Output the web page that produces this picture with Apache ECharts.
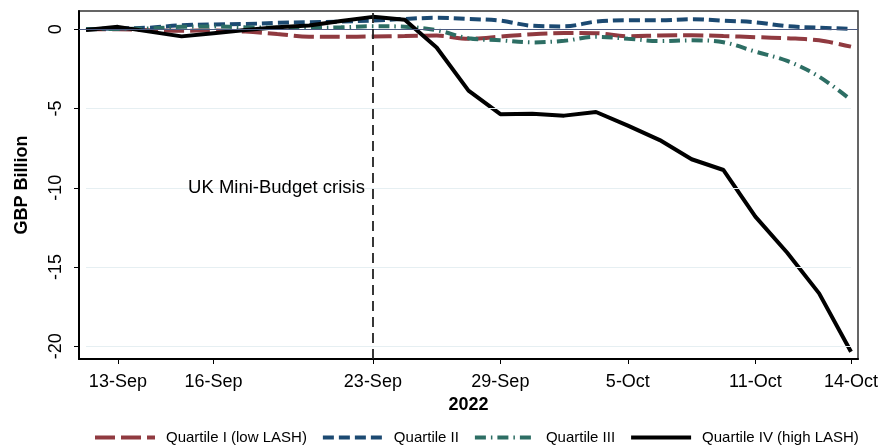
<!DOCTYPE html>
<html>
<head>
<meta charset="utf-8">
<script src="https://cdn.jsdelivr.net/npm/echarts@6/dist/echarts.min.js"></script>
<style>
  html, body { margin: 0; padding: 0; background: #fff; }
  #chart { width: 885px; height: 446px; }
</style>
</head>
<body>
<div id="chart"></div>
<script>
// Business days, 12 Sep – 14 Oct 2022
const dates = ['12-Sep','13-Sep','14-Sep','15-Sep','16-Sep','19-Sep','20-Sep','21-Sep','22-Sep','23-Sep',
  '26-Sep','27-Sep','28-Sep','29-Sep','30-Sep','3-Oct','4-Oct','5-Oct','6-Oct','7-Oct',
  '10-Oct','11-Oct','12-Oct','13-Oct','14-Oct'];
const tickDates = ['13-Sep','16-Sep','23-Sep','29-Sep','5-Oct','11-Oct','14-Oct'];
const yTicks = [-20, -15, -10, -5, 0];
const eventDate = '23-Sep';
const eventText = 'UK Mini-Budget crisis';

// Cumulative flows, GBP billion
const q1 = [0, 0, -0.06, -0.09, -0.08, -0.15, -0.3, -0.47, -0.48, -0.46, -0.43, -0.4, -0.6, -0.47, -0.31, -0.24, -0.25, -0.44, -0.4, -0.38, -0.43, -0.5, -0.57, -0.7, -1.1];
const q2 = [0, 0.05, 0.1, 0.25, 0.3, 0.33, 0.4, 0.44, 0.48, 0.55, 0.65, 0.72, 0.65, 0.54, 0.22, 0.18, 0.48, 0.57, 0.57, 0.63, 0.54, 0.44, 0.19, 0.1, 0.02];
const q3 = [0, 0.02, 0.05, 0.15, 0.17, 0.12, 0.1, 0.1, 0.12, 0.19, 0.16, -0.06, -0.57, -0.7, -0.83, -0.73, -0.48, -0.6, -0.75, -0.7, -0.82, -1.41, -2.0, -2.99, -4.46];
const q4 = [-0.05, 0.15, -0.15, -0.45, -0.25, -0.05, 0.12, 0.23, 0.52, 0.78, 0.6, -1.15, -3.87, -5.36, -5.33, -5.45, -5.22, -6.08, -6.99, -8.2, -8.88, -11.82, -14.1, -16.66, -20.34];

const names = ['Quartile I (low LASH)', 'Quartile II', 'Quartile III', 'Quartile IV (high LASH)'];

const FONT = '"Liberation Sans", Arial, sans-serif';
const pairs = arr => arr.map((v, i) => [i, v]);
const tickIdx = tickDates.map(d => dates.indexOf(d));
const eventIdx = dates.indexOf(eventDate);
const lastIdx = dates.length - 1;

const chart = echarts.init(document.getElementById('chart'), null, { renderer: 'canvas' });

const gridLines = yTicks.filter(v => v !== 0).map(v => [{ coord: [0, v] }, { coord: [lastIdx, v] }]);

const option = {
  animation: false,
  backgroundColor: '#fff',
  grid: { left: 79, top: 11, right: 27, bottom: 87, show: true, borderColor: '#333', borderWidth: 1.5, backgroundColor: 'transparent' },
  xAxis: {
    type: 'value',
    min: -0.22,
    max: lastIdx + 0.22,
    name: '2022',
    nameLocation: 'middle',
    nameGap: 31,
    nameTextStyle: { fontFamily: FONT, fontSize: 18, fontWeight: 'bold', color: '#000' },
    axisLine: { show: true, onZero: false, lineStyle: { color: '#000', width: 2 } },
    axisTick: { show: true, customValues: tickIdx, length: 5, lineStyle: { color: '#000', width: 1 } },
    axisLabel: {
      customValues: tickIdx,
      formatter: v => dates[Math.round(v)],
      fontFamily: FONT, fontSize: 18, color: '#000', margin: 14, hideOverlap: false
    },
    splitLine: { show: false }
  },
  yAxis: {
    type: 'value',
    min: -20.8,
    max: 1.15,
    name: 'GBP Billion',
    nameLocation: 'middle',
    nameGap: 48,
    nameTextStyle: { fontFamily: FONT, fontSize: 18, fontWeight: 'bold', color: '#000' },
    axisLine: { show: true, onZero: false, lineStyle: { color: '#000', width: 2 } },
    axisTick: { show: true, customValues: yTicks, length: 5, lineStyle: { color: '#000', width: 1 } },
    axisLabel: {
      customValues: yTicks,
      rotate: 90,
      fontFamily: FONT, fontSize: 18, color: '#000', margin: 14
    },
    splitLine: { show: false }
  },
  legend: {
    data: names,
    left: 93,
    top: 430,
    padding: 0,
    itemWidth: 60,
    itemHeight: 14,
    itemGap: 14,
    itemStyle: { opacity: 0 },
    lineStyle: { width: 4 },
    textStyle: { fontFamily: FONT, fontSize: 15, color: '#000', padding: [0, 0, 0, 6] }
  },
  series: [
    {
      name: 'grid',
      type: 'line',
      data: [],
      z: 1,
      silent: true,
      markLine: {
        silent: true, symbol: 'none', animation: false,
        label: { show: false },
        lineStyle: { color: '#e6eff2', width: 1.2, type: 'solid' },
        data: gridLines.concat([{ yAxis: 0, lineStyle: { color: '#4b5a80', width: 1.2 } }])
      }
    },
    {
      name: names[0], type: 'line', data: pairs(q1), smooth: 0.35, symbol: 'none', z: 3,
      lineStyle: { color: '#903a40', width: 4, type: [20, 6] },
      itemStyle: { color: '#903a40' }
    },
    {
      name: names[1], type: 'line', data: pairs(q2), smooth: 0.35, symbol: 'none', z: 3,
      lineStyle: { color: '#1c4a72', width: 4, type: [11, 5] },
      itemStyle: { color: '#1c4a72' }
    },
    {
      name: names[2], type: 'line', data: pairs(q3), smooth: 0.35, symbol: 'none', z: 3,
      lineStyle: { color: '#2d6e64', width: 4, type: [11, 5, 1.5, 5] },
      itemStyle: { color: '#2d6e64' }
    },
    {
      name: names[3], type: 'line', data: pairs(q4), smooth: false, symbol: 'none', z: 4,
      lineStyle: { color: '#000', width: 4, type: 'solid' },
      itemStyle: { color: '#000' },
      markLine: {
        silent: true, symbol: 'none', animation: false,
        label: { show: false },
        lineStyle: { color: '#222', width: 1.8, type: [10, 6] },
        data: [{ xAxis: eventIdx }]
      }
    }
  ]
};

chart.setOption(option);

// Event annotation placed left of the dashed marker line
const p = chart.convertToPixel({ gridIndex: 0 }, [eventIdx, -10]);
chart.setOption({
  graphic: [{
    type: 'text',
    x: p[0] - 8,
    y: p[1],
    style: { text: eventText, fontFamily: FONT, fontSize: 18.5, fill: '#000', align: 'right', verticalAlign: 'middle' },
    z: 10
  }]
});
</script>
</body>
</html>
